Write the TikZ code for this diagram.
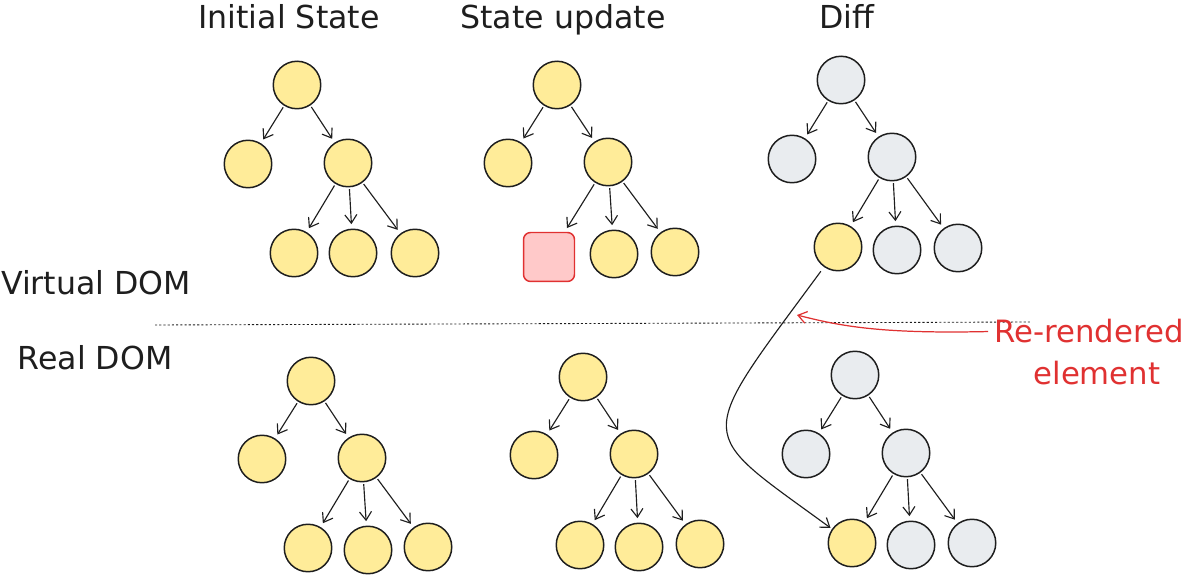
\documentclass[tikz,border=0pt]{standalone}
\usepackage{xcolor}
\usepackage{fontspec}
\setsansfont{DejaVu Sans}
\usepackage{tikz}
\usetikzlibrary{positioning,calc,arrows.meta}

\definecolor{inkblack}{HTML}{1E1E1E}
\definecolor{nodeyellow}{HTML}{FFEC99}
\definecolor{nodegrey}{HTML}{E9ECEF}
\definecolor{changedred}{HTML}{E03131}
\definecolor{changedfill}{HTML}{FFC9C9}

\tikzset{
    vnode/.style={circle, draw=inkblack, line width=0.85pt, minimum size=0.95cm, inner sep=0pt},
    ynode/.style={vnode, fill=nodeyellow},
    gnode/.style={vnode, fill=nodegrey},
    rnode/.style={rectangle, rounded corners=4pt, draw=changedred, fill=changedfill, line width=0.85pt,
        minimum width=1.02cm, minimum height=0.98cm, inner sep=0pt},
    treearrow/.style={draw=inkblack, line width=0.65pt, -{Straight Barb[length=1.7mm,width=2.4mm]},
        shorten >=2.5pt, shorten <=1pt},
    title/.style={anchor=base, text=inkblack, font=\sffamily\fontsize{18}{20}\selectfont},
    note/.style={anchor=base, text=changedred, font=\sffamily\fontsize{17.5}{20}\selectfont},
}

\begin{document}
\begin{tikzpicture}[x=0.02cm, y=-0.02cm, font=\sffamily]
        \useasboundingbox (0,0) rectangle (1200,577);

        % Titles
        \node[title] (tInit) at (289,29) {Initial State};
        \node[title] (tUpd) at (563,29) {State update};
        \node[title] (tDiff) at (847,29) {Diff};
        \node[title] (tVirt) at (96,295) {Virtual DOM};
        \node[title] (tReal) at (95,370) {Real DOM};

        % Virtual DOM, initial state
        \node[ynode] (a0) at (297,85) {};
        \node[ynode] (a1) at (248,164) {};
        \node[ynode] (a2) at (348,163) {};
        \node[ynode] (a3) at (294,253) {};
        \node[ynode] (a4) at (353,253) {};
        \node[ynode] (a5) at (415,253) {};

        % Virtual DOM, state update
        \node[ynode] (b0) at (557,85) {};
        \node[ynode] (b1) at (508,163) {};
        \node[ynode] (b2) at (608,162) {};
        \node[rnode] (b3) at (549,257) {};
        \node[ynode] (b4) at (614,254) {};
        \node[ynode] (b5) at (675,252) {};

        % Virtual DOM, diff
        \node[gnode] (c0) at (841,80) {};
        \node[gnode] (c1) at (792,159) {};
        \node[gnode] (c2) at (892,157) {};
        \node[ynode] (c3) at (838,247) {};
        \node[gnode] (c4) at (897,250) {};
        \node[gnode] (c5) at (958,248) {};

        % Real DOM, initial state
        \node[ynode] (d0) at (311,381) {};
        \node[ynode] (d1) at (262,459) {};
        \node[ynode] (d2) at (362,458) {};
        \node[ynode] (d3) at (308,548) {};
        \node[ynode] (d4) at (368,550) {};
        \node[ynode] (d5) at (428,547) {};

        % Real DOM, state update
        \node[ynode] (e0) at (583,377) {};
        \node[ynode] (e1) at (534,455) {};
        \node[ynode] (e2) at (634,454) {};
        \node[ynode] (e3) at (580,545) {};
        \node[ynode] (e4) at (639,547) {};
        \node[ynode] (e5) at (700,544) {};

        % Real DOM, diff
        \node[gnode] (f0) at (855,375) {};
        \node[gnode] (f1) at (806,454) {};
        \node[gnode] (f2) at (906,453) {};
        \node[ynode] (f3) at (852,543) {};
        \node[gnode] (f4) at (911,545) {};
        \node[gnode] (f5) at (972,543) {};

        % Tree edges
        \foreach \t in {a,b,c,d,e,f} {
            \draw[treearrow] (\t0) -- (\t1);
            \draw[treearrow] (\t0) -- (\t2);
            \foreach \k in {3,4,5}
                \draw[treearrow] (\t2) -- (\t\k);
        }

        % Separator
        \coordinate (sepL) at (155,325);
        \coordinate (sepR) at (1030,322);
        \draw[inkblack, line width=0.5pt, dash pattern=on 1.2pt off 1.2pt] (sepL) -- (sepR);

        % Patch from virtual to real DOM
        \draw[treearrow, shorten <=3pt, shorten >=1pt] (c3.235) .. controls (693,445) and (694,428) .. (f3.145);

        % Note
        \node[note] (rr1) at (1089,343) {Re-rendered};
        \node[note] (rr2) at (1097,385) {element};
        \coordinate (hit) at (797,315);
        \draw[changedred, line width=0.7pt, -{Straight Barb[length=1.7mm,width=2.4mm]}]
            (rr1.west) .. controls (880,334) and (840,326) .. (hit);
    \end{tikzpicture}
\end{document}
